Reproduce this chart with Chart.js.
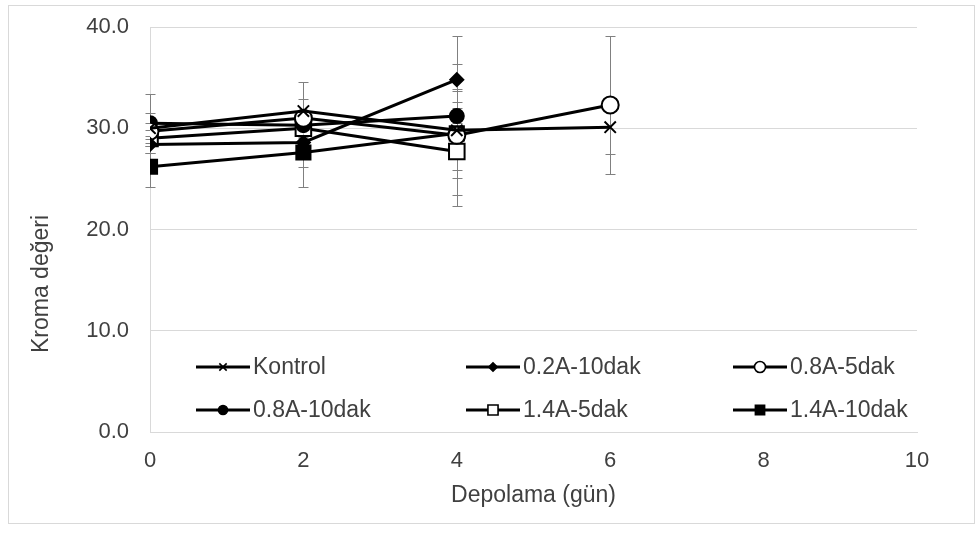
<!DOCTYPE html>
<html>
<head>
<meta charset="utf-8">
<script src="https://cdn.jsdelivr.net/npm/chart.js@4.4.1/dist/chart.umd.min.js"></script>
<style>
  html, body { margin: 0; padding: 0; background: #ffffff; }
  #wrap { position: relative; width: 979px; height: 536px; }
  #frame { position: absolute; left: 8px; top: 5px; width: 965px; height: 517px; border: 1px solid #d9d9d9; pointer-events: none; }
  canvas { position: absolute; left: 0; top: 0; }
</style>
</head>
<body>
<div id="wrap">
  <canvas id="c" width="979" height="536"></canvas>
  <div id="frame"></div>
</div>
<script>
// Storage days (x) and chroma values per treatment
const days = [0, 2, 4, 6];
const seriesNames = ["Kontrol", "0.2A-10dak", "0.8A-5dak", "0.8A-10dak", "1.4A-5dak", "1.4A-10dak"];

const kontrol = [30.0, 31.7, 29.8, 30.1];
const a02_10 = [28.4, 28.6, 34.8];
const a08_5 = [29.7, 31.0, 29.3, 32.3];
const a08_10 = [30.5, 30.3, 31.2];
const a14_5 = [29.0, 30.0, 27.7];
const a14_10 = [26.2, 27.6, 29.5];

// Standard deviations (error bars)
const kontrolSd = [1.5, 2.9, 3.9, 2.6];
const a02_10Sd = [0.8, 2.4, 4.3];
const a08_5Sd = [0.8, 1.9, 7.0, 6.8];
const a08_10Sd = [2.9, 1.0, 1.4];
const a14_5Sd = [0.8, 1.0, 4.3];
const a14_10Sd = [2.0, 3.4, 4.4];

const yTicks = [0, 10, 20, 30, 40];
const xTicks = [0, 2, 4, 6, 8, 10];

const FONT = "'Liberation Sans', Arial, sans-serif";
const TEXT = "#404040";

function pts(vals, sds) {
  return vals.map((v, i) => ({ x: days[i], y: v, sd: sds[i] }));
}

// marker style per series: [pointStyle, radius, filled]
const markerStyles = [
  ["crossRot", 8, true],
  ["rectRot", 6.5, true],
  ["circle", 8.5, false],
  ["circle", 7, true],
  ["rect", 11, false],
  ["rect", 10, true]
];
const values = [kontrol, a02_10, a08_5, a08_10, a14_5, a14_10];
const sds = [kontrolSd, a02_10Sd, a08_5Sd, a08_10Sd, a14_5Sd, a14_10Sd];

const datasets = values.map((vals, i) => {
  const [style, r, filled] = markerStyles[i];
  return {
    label: seriesNames[i],
    data: pts(vals, sds[i]),
    showLine: true,
    borderColor: "#000000",
    borderWidth: 3,
    tension: 0,
    pointStyle: style,
    pointRadius: r,
    pointHoverRadius: r,
    pointBorderColor: "#000000",
    pointBorderWidth: 2,
    pointBackgroundColor: filled ? "#000000" : "#ffffff"
  };
});

// Vertical error bars with caps, drawn under the series lines
const errorBars = {
  id: "errorBars",
  beforeDatasetsDraw(chart) {
    const { ctx, scales: { x, y } } = chart;
    ctx.save();
    ctx.strokeStyle = "#808080";
    ctx.lineWidth = 1;
    chart.data.datasets.forEach(ds => {
      ds.data.forEach(p => {
        const px = Math.round(x.getPixelForValue(p.x)) + 0.5;
        const top = Math.round(y.getPixelForValue(p.y + p.sd)) + 0.5;
        const bot = Math.round(y.getPixelForValue(p.y - p.sd)) + 0.5;
        ctx.beginPath();
        ctx.moveTo(px, top); ctx.lineTo(px, bot);
        ctx.moveTo(px - 5, top); ctx.lineTo(px + 5, top);
        ctx.moveTo(px - 5, bot); ctx.lineTo(px + 5, bot);
        ctx.stroke();
      });
    });
    ctx.restore();
  }
};

function drawMarker(ctx, style, x, y, r, filled) {
  ctx.save();
  ctx.fillStyle = filled ? "#000000" : "#ffffff";
  ctx.strokeStyle = "#000000";
  ctx.lineWidth = 1.6;
  ctx.beginPath();
  if (style === "circle") {
    ctx.arc(x, y, r, 0, Math.PI * 2);
    ctx.fill(); ctx.stroke();
  } else if (style === "rect") {
    const s = r * Math.SQRT1_2;
    ctx.rect(x - s, y - s, 2 * s, 2 * s);
    ctx.fill(); ctx.stroke();
  } else if (style === "rectRot") {
    ctx.moveTo(x - r, y); ctx.lineTo(x, y - r); ctx.lineTo(x + r, y); ctx.lineTo(x, y + r);
    ctx.closePath();
    ctx.fill(); ctx.stroke();
  } else if (style === "crossRot") {
    const d = r * Math.SQRT1_2;
    ctx.moveTo(x - d, y - d); ctx.lineTo(x + d, y + d);
    ctx.moveTo(x - d, y + d); ctx.lineTo(x + d, y - d);
    ctx.stroke();
  }
  ctx.restore();
}

// Legend laid out in a 3x2 grid inside the plot area, plus the y-axis title
const gridLegend = {
  id: "gridLegend",
  afterDraw(chart) {
    const { ctx } = chart;
    const colX = [196, 466, 733];
    const rowY = [367, 410];
    ctx.save();
    ctx.font = "23px " + FONT;
    ctx.textBaseline = "middle";
    ctx.textAlign = "left";
    chart.data.datasets.forEach((ds, i) => {
      const x0 = colX[i % 3];
      const yy = rowY[Math.floor(i / 3)];
      ctx.strokeStyle = "#000000";
      ctx.lineWidth = 3;
      ctx.beginPath();
      ctx.moveTo(x0, yy); ctx.lineTo(x0 + 54, yy);
      ctx.stroke();
      const [style, r, filled] = markerStyles[i];
      drawMarker(ctx, style, x0 + 27, yy, r * 0.65, filled);
      ctx.fillStyle = TEXT;
      ctx.fillText(ds.label, x0 + 57, yy + 1);
    });
    // y-axis title
    ctx.translate(42, 284);
    ctx.rotate(-Math.PI / 2);
    ctx.textAlign = "center";
    ctx.fillStyle = TEXT;
    ctx.fillText("Kroma değeri", 0, 0);
    ctx.restore();
  }
};

new Chart(document.getElementById("c"), {
  type: "scatter",
  data: { datasets },
  options: {
    responsive: false,
    animation: false,
    events: [],
    layout: { padding: { left: 10, right: 62, top: 27, bottom: 27 } },
    plugins: { legend: { display: false }, tooltip: { enabled: false } },
    scales: {
      x: {
        type: "linear",
        min: 0, max: 10,
        afterBuildTicks: s => { s.ticks = xTicks.map(v => ({ value: v })); },
        afterFit: s => { s.height = 77; },
        grid: { display: false, drawTicks: false },
        border: { display: true, color: "#d9d9d9", width: 1 },
        ticks: { padding: 16, color: TEXT, font: { family: FONT, size: 22 } },
        title: { display: true, text: "Depolama (gün)", color: TEXT, padding: 0, font: { family: FONT, size: 23 } }
      },
      y: {
        min: 0, max: 40,
        afterBuildTicks: s => { s.ticks = yTicks.map(v => ({ value: v })); },
        afterFit: s => { s.width = 140; },
        grid: { color: "#d9d9d9", lineWidth: 1, drawTicks: true, tickLength: 16, tickColor: "rgba(0,0,0,0)" },
        border: { display: true, color: "#d9d9d9", width: 1 },
        ticks: { padding: 5, color: TEXT, font: { family: FONT, size: 22 }, callback: v => v.toFixed(1) }
      }
    }
  },
  plugins: [errorBars, gridLegend]
});
</script>
</body>
</html>
